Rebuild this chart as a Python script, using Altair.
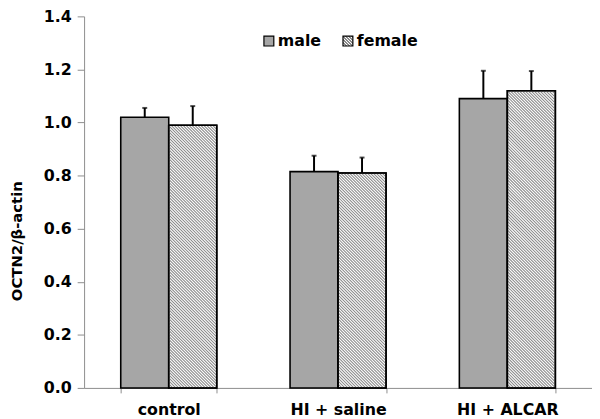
import math
import altair as alt
import pandas as pd

# ---- data ----
groups = ["control", "HI + saline", "HI + ALCAR"]
series = ["male", "female"]
male_mean = [1.02, 0.815, 1.09]
male_err = [0.035, 0.06, 0.105]
female_mean = [0.99, 0.81, 1.12]
female_err = [0.072, 0.058, 0.074]
y_ticks = [0.0, 0.2, 0.4, 0.6, 0.8, 1.0, 1.2, 1.4]

# ---- layout / style ----
W, H = 514, 376
YMAX = 1.4
P_INNER = 0.433
P_OUTER = P_INNER / 2
MALE_FILL = "#a6a6a6"
HATCH = "#8a8a8a"
FONT = "DejaVu Sans"
PERIOD = 3.0      # horizontal hatch spacing in px

rows = []
for g, mm, me, fm, fe in zip(groups, male_mean, male_err, female_mean, female_err):
    rows.append({"group": g, "sex": "male", "mean": mm, "hi": mm + me})
    rows.append({"group": g, "sex": "female", "mean": fm, "hi": fm + fe})
df = pd.DataFrame(rows)

xsc = alt.Scale(domain=groups, paddingInner=P_INNER, paddingOuter=P_OUTER)
xoff = alt.Scale(domain=series, paddingInner=0, paddingOuter=0)
ysc = alt.Scale(domain=[0, YMAX], nice=False)

step = W / (len(groups) - P_INNER + 2 * P_OUTER)
bar_w = step * (1 - P_INNER) / 2


def hatch_path(w, h, period=PERIOD, inset=0.6):
    """SVG path of '\\' hatch lines filling a w x h box centred on 0,0."""
    hw, hh = w / 2 - inset, h / 2 - inset
    parts = []
    c = -(hw + hh)
    c = math.ceil(c / period) * period
    while c <= hw + hh:
        x1 = max(-hw, -hh + c)
        x2 = min(hw, hh + c)
        if x2 > x1:
            parts.append(f"M{x1:.2f},{x1 - c:.2f}L{x2:.2f},{x2 - c:.2f}")
        c += period
    return "".join(parts)


def hatch_gradient(w, h, period=3.0, frac=0.5):
    """small diagonal-stripe gradient for the legend swatch"""
    k = (w + h) / (w * w + h * h)
    n = (w + h) / period
    stops = []
    i = 0
    while i / n < 1:
        a, b, e = i / n, min((i + frac) / n, 1), min((i + 1) / n, 1)
        stops += [
            {"offset": round(a, 5), "color": HATCH},
            {"offset": round(b, 5), "color": HATCH},
            {"offset": round(b, 5), "color": "#ffffff"},
            {"offset": round(e, 5), "color": "#ffffff"},
        ]
        i += 1
    return {"gradient": "linear", "x1": 0, "y1": 1,
            "x2": round(k * w, 5), "y2": round(1 - k * h, 5), "stops": stops}


base = alt.Chart(df)
x_enc = alt.X(
    "group:N", scale=xsc, sort=groups, title=None,
    axis=alt.Axis(
        labelAngle=0, tickBand="extent", tickSize=5, labelPadding=9,
        labelFont=FONT, labelFontSize=16, labelFontWeight="bold",
        labelColor="#000000", domainColor="#8c8c8c", tickColor="#8c8c8c",
        domainWidth=1, grid=False,
    ),
)
y_axis = alt.Axis(
    values=y_ticks, format=".1f", tickSize=7, labelPadding=6,
    labelFont=FONT, labelFontSize=16, labelFontWeight="bold",
    labelColor="#000000", titleFont=FONT, titleFontSize=15,
    titleFontWeight="bold", titleColor="#000000",
    titleAngle=-90, titleAlign="center", titleBaseline="alphabetic",
    titleX=-63, titleY=227,
    domainColor="#8c8c8c", tickColor="#8c8c8c", grid=False,
)
y_enc = alt.Y("mean:Q", scale=ysc, title="OCTN2/β-actin", axis=y_axis)
xo = alt.XOffset("sex:N", scale=xoff, sort=series)

male_bars = base.transform_filter(alt.datum.sex == "male").mark_bar(
    fill=MALE_FILL, stroke="#000000", strokeWidth=1.6
).encode(x=x_enc, xOffset=xo, y=y_enc)
female_bars = base.transform_filter(alt.datum.sex == "female").mark_bar(
    fill="#ffffff", stroke="#000000", strokeWidth=1.6
).encode(x=x_enc, xOffset=xo, y=y_enc)

layers = [male_bars, female_bars]

# hatch pattern of each female bar: a custom symbol centred on the bar
for g, fm in zip(groups, female_mean):
    h_px = fm / YMAX * H
    layers.append(
        base.transform_filter((alt.datum.sex == "female") & (alt.datum.group == g))
        .transform_calculate(mid="datum.mean / 2")
        .mark_point(shape=hatch_path(bar_w, h_px), size=4, filled=False,
                    stroke=HATCH, strokeWidth=1.05, opacity=1)
        .encode(x=x_enc, xOffset=xo, y=alt.Y("mid:Q", scale=ysc))
    )

# redraw the outlines on top of the hatch
layers.append(
    base.transform_filter(alt.datum.sex == "female").mark_bar(
        fillOpacity=0, stroke="#000000", strokeWidth=1.6
    ).encode(x=x_enc, xOffset=xo, y=y_enc)
)

err_rule = base.mark_rule(color="#000000", strokeWidth=2).encode(
    x=x_enc, xOffset=xo, y="mean:Q", y2="hi:Q"
)
err_cap = base.mark_tick(color="#000000", thickness=2, size=5, orient="horizontal").encode(
    x=x_enc, xOffset=xo, y="hi:Q"
)
layers += [err_rule, err_cap]

# ---- legend (drawn inside the plot) ----
one = pd.DataFrame({"k": [0]})
leg_pos = {"male": 182, "female": 262}
for s in series:
    x0 = leg_pos[s]
    fill = MALE_FILL if s == "male" else hatch_gradient(10, 10)
    layers.append(
        alt.Chart(one).mark_rect(stroke="#000000", strokeWidth=1.2).encode(
            x=alt.value(x0), x2=alt.value(x0 + 10),
            y=alt.value(20), y2=alt.value(30), fill=alt.value(fill),
        )
    )
    layers.append(
        alt.Chart(one).mark_text(
            align="left", baseline="middle", font=FONT, fontSize=16,
            fontWeight="bold", color="#000000",
        ).encode(x=alt.value(x0 + 14), y=alt.value(25), text=alt.value(s))
    )

chart = alt.layer(*layers).properties(
    width=W, height=H,
    autosize=alt.AutoSizeParams(type="none"),
    padding={"left": 77, "top": 6, "right": 0, "bottom": 32},
).configure_view(stroke=None)

chart.save("out.html", embed_options={"renderer": "svg", "actions": False})
